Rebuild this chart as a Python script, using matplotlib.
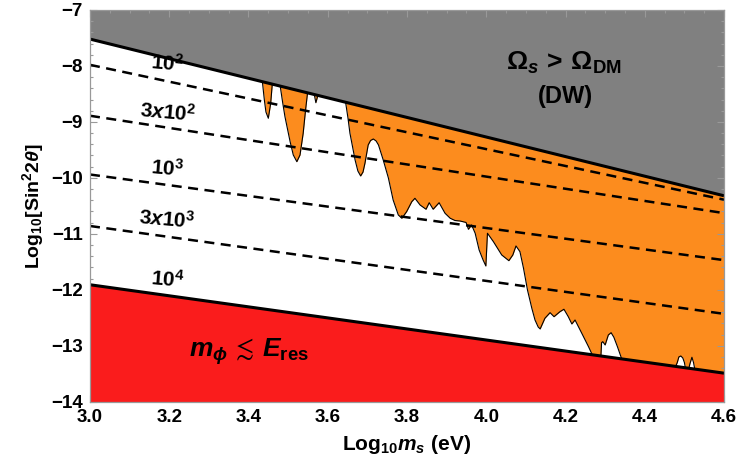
import numpy as np
import matplotlib
matplotlib.use("Agg")
import matplotlib.pyplot as plt

plt.rcParams['font.family'] = ['Liberation Sans', 'DejaVu Sans']
plt.rcParams['mathtext.fontset'] = 'custom'
plt.rcParams['mathtext.rm'] = 'Liberation Sans:bold'
plt.rcParams['mathtext.bf'] = 'Liberation Sans:bold'
plt.rcParams['mathtext.it'] = 'Liberation Sans:bold:italic'
plt.rcParams['mathtext.fallback'] = 'stixsans'

# ---- data ----
line_x = [3.0, 4.6]
dw_bound = [-7.52, -10.32]          # upper solid line (Omega_s > Omega_DM)
res_bound = [-11.91, -13.49]        # lower solid line (10^4, m_phi <~ E_res)
dash_labels = ["10^{2}", "3x10^{2}", "10^{3}", "3x10^{3}"]
dash_left = [-7.98, -8.89, -9.94, -10.86]
dash_right = [-10.39, -10.63, -11.47, -12.43]

lab_texts = ["10^{2}", "3x10^{2}", "10^{3}", "3x10^{3}", "10^{4}"]
lab_x = [3.195, 3.195, 3.195, 3.195, 3.195]
lab_y = [-7.95, -8.82, -9.83, -10.75, -11.82]

orange_x = [3.430, 3.435, 3.440, 3.444, 3.450, 3.456, 3.460, 3.470, 3.480, 3.486,
            3.492, 3.505, 3.513, 3.522, 3.530, 3.538, 3.544, 3.549, 3.558, 3.566,
            3.570, 3.575, 3.600, 3.645, 3.651, 3.656, 3.669, 3.676, 3.683, 3.689,
            3.694, 3.702, 3.708, 3.715, 3.722, 3.728, 3.740, 3.753, 3.765, 3.778,
            3.787, 3.799, 3.812, 3.820, 3.833, 3.848, 3.856, 3.866, 3.881, 3.896,
            3.909, 3.921, 3.934, 3.949, 3.955, 3.963, 3.972, 3.982, 3.992, 3.999,
            4.003, 4.018, 4.039, 4.057, 4.067, 4.075, 4.085, 4.094, 4.104, 4.115,
            4.123, 4.131, 4.136, 4.148, 4.161, 4.171, 4.186, 4.196, 4.207, 4.216,
            4.224, 4.241, 4.258, 4.270, 4.289, 4.291, 4.294, 4.300, 4.308, 4.315,
            4.322, 4.331, 4.343, 4.400, 4.476, 4.482, 4.486, 4.491, 4.496, 4.500,
            4.503, 4.510, 4.514, 4.519, 4.523, 4.527, 4.560, 4.600]
orange_y = [-7.0, -8.281, -8.608, -8.823, -8.935, -8.667, -8.310, -7.0, -8.357, -8.644,
            -8.907, -9.353, -9.591, -9.711, -9.591, -9.203, -8.787, -8.477, -7.0, -8.505,
            -8.657, -8.523, -7.0, -8.645, -8.930, -9.203, -9.681, -9.877, -9.966, -9.895,
            -9.734, -9.412, -9.332, -9.305, -9.341, -9.412, -9.681, -10.002, -10.395, -10.663,
            -10.722, -10.604, -10.426, -10.365, -10.485, -10.561, -10.444, -10.561, -10.444, -10.633,
            -10.722, -10.762, -10.771, -10.797, -10.919, -10.842, -10.990, -11.289, -11.468, -11.575,
            -10.990, -11.140, -11.378, -11.480, -11.378, -11.217, -11.319, -11.616, -12.004, -12.331,
            -12.540, -12.665, -12.700, -12.509, -12.409, -12.481, -12.391, -12.348, -12.481, -12.611,
            -12.540, -12.777, -13.017, -13.20, -13.22, -12.945, -12.927, -12.986, -12.808, -12.767,
            -12.849, -13.017, -13.26, -13.35, -13.40, -13.30, -13.20, -13.183, -13.22, -13.30,
            -13.42, -13.44, -13.32, -13.206, -13.30, -13.45, -13.50, -13.56]

# ---- figure ----
fig = plt.figure(figsize=(7.37, 4.69), dpi=100)
ax = fig.add_axes([0.1221, 0.1435, 0.8603, 0.8352])
ax.set_xlim(3.0, 4.6)
ax.set_ylim(-14, -7)

GRAY = '#808080'
ORANGE = '#FC8C1E'
RED = '#FA1C1C'

ax.fill_between(line_x, dw_bound, [-7, -7], color=GRAY, lw=0, zorder=1)
ox = np.array(orange_x)
up = np.interp(ox, line_x, dw_bound)
low = np.minimum(np.array(orange_y), up)
ax.fill_between(ox, low, up, color=ORANGE, lw=0, zorder=1)
ax.plot(ox, low, color='black', lw=0.8, zorder=1.5)
ax.fill_between(line_x, [-14, -14], res_bound, color=RED, lw=0, zorder=2)

for yl, yr in zip(dash_left, dash_right):
    ax.plot(line_x, [yl, yr], color='black', lw=1.8, dashes=(4.0, 2.6), zorder=3)

ax.plot(line_x, dw_bound, color='black', lw=2.2, zorder=4, solid_capstyle='butt')
ax.plot(line_x, res_bound, color='black', lw=2.2, zorder=4, solid_capstyle='butt')

for t, x, y in zip(lab_texts, lab_x, lab_y):
    ax.text(x, y, r'$\mathit{' + t + '}$', fontsize=15, ha='center', va='center',
            rotation=-5, zorder=5)

ax.text(4.195, -7.95, r'$\Omega_{\mathit{s}}\,>\,\Omega_{\mathrm{DM}}$', fontsize=19,
        ha='center', va='center', zorder=5)
ax.text(4.200, -8.55, '(DW)', fontsize=17, fontweight='bold', ha='center', va='center', zorder=5)
ax.text(3.40, -13.11, r'$\mathit{m}_{\phi}\,\lesssim\,\mathit{E}_{\mathrm{res}}$', fontsize=19,
        ha='center', va='center', zorder=5)

ax.set_xlabel(r'$\mathrm{Log_{10}}\mathit{m_{s}}\ \mathrm{(eV)}$', fontsize=15, labelpad=5)
ax.set_ylabel(r'$\mathrm{Log_{10}[Sin^{2}2}\mathit{\theta}\mathrm{]}$', fontsize=14, labelpad=4)

ax.set_xticks(np.arange(3.0, 4.61, 0.2))
ax.set_xticks(np.arange(3.0, 4.61, 0.05), minor=True)
ax.set_yticks(np.arange(-14, -6.9, 1))
ax.set_yticks(np.arange(-14, -6.9, 0.2), minor=True)
ax.set_xticklabels(['%.1f' % v for v in np.arange(3.0, 4.61, 0.2)])
ax.set_yticklabels(['\u2212%d' % abs(v) for v in np.arange(-14, -6.9, 1)])
for lbl in ax.get_xticklabels() + ax.get_yticklabels():
    lbl.set_fontweight('bold')
    lbl.set_fontsize(13.5)
ax.tick_params(which='both', direction='in', top=True, right=True, color='#999999', width=0.8)
ax.tick_params(which='major', length=5, pad=5)
ax.tick_params(which='minor', length=2.5)
for s in ax.spines.values():
    s.set_color('#999999')
    s.set_linewidth(0.9)
    s.set_zorder(6)

fig.savefig('out.png', dpi=100)
